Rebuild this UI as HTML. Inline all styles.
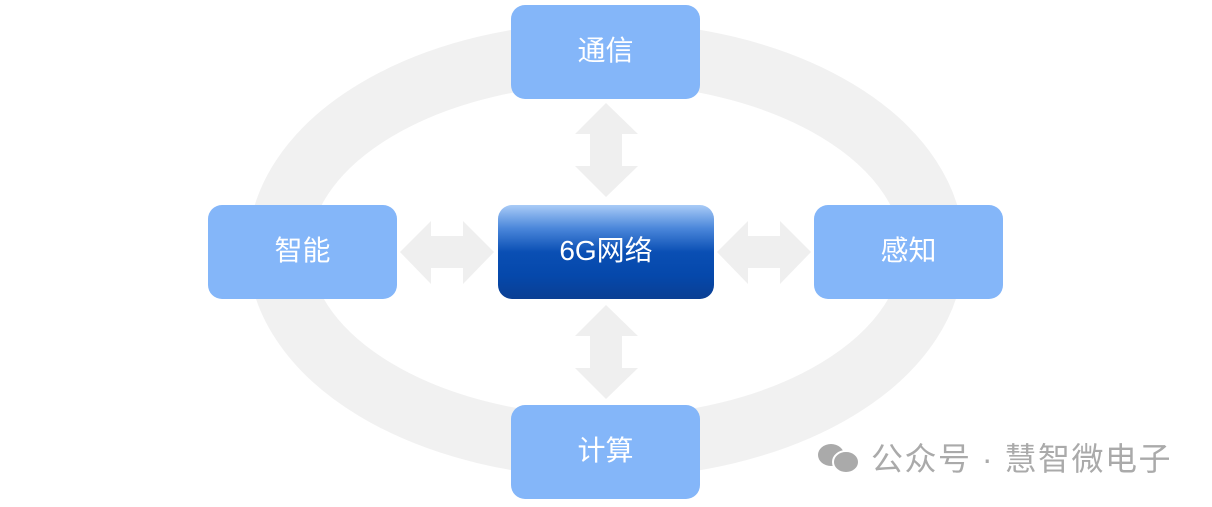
<!DOCTYPE html>
<html><head><meta charset="utf-8"><style>
html,body{margin:0;padding:0;background:#fff;width:1212px;height:507px;overflow:hidden;}
.b{position:absolute;width:189px;height:94px;border-radius:14px;background:#84b6f9;color:#fff;font:28px "Liberation Sans","Noto Sans CJK SC",sans-serif;display:flex;align-items:center;justify-content:center;box-sizing:border-box;padding-bottom:6px;}
</style></head><body>
<svg width="1212" height="507" style="position:absolute;left:0;top:0">
<ellipse cx="606" cy="250" rx="327" ry="197" fill="none" stroke="#f1f1f1" stroke-width="62"/>
<g fill="#efefef">
<polygon points="400,252 431,221 431,236 463,236 463,221 494,252 463,284 463,268 431,268 431,284"/>
<polygon points="717,252 748,221 748,236 780,236 780,221 811,252 780,284 780,268 748,268 748,284"/>
<polygon points="606,103 638,134 622,134 622,166 638,166 606,197 575,166 590,166 590,134 575,134"/>
<polygon points="606,305 638,336 622,336 622,368 638,368 606,399 575,368 590,368 590,336 575,336"/>
</g>
<g fill="#aaa">
<ellipse cx="831" cy="455" rx="13" ry="11"/>
<ellipse cx="846" cy="462" rx="13" ry="11" stroke="#fff" stroke-width="2"/>
</g>
<text x="871" y="470" font-family="Liberation Sans,Noto Sans CJK SC,sans-serif" font-size="32" letter-spacing="1.5" fill="#aaa">公众号 · 慧智微电子</text>
</svg>
<div class="b" style="left:511px;top:5px">通信</div>
<div class="b" style="left:208px;top:205px">智能</div>
<div class="b" style="left:814px;top:205px">感知</div>
<div class="b" style="left:511px;top:405px">计算</div>
<div class="b" style="left:498px;top:205px;width:216px;background:linear-gradient(#a9cbf7 0%,#4a86da 25%,#0a4fb4 50%,#0548ab 75%,#0a3f94 100%)">6G网络</div>
</body></html>
